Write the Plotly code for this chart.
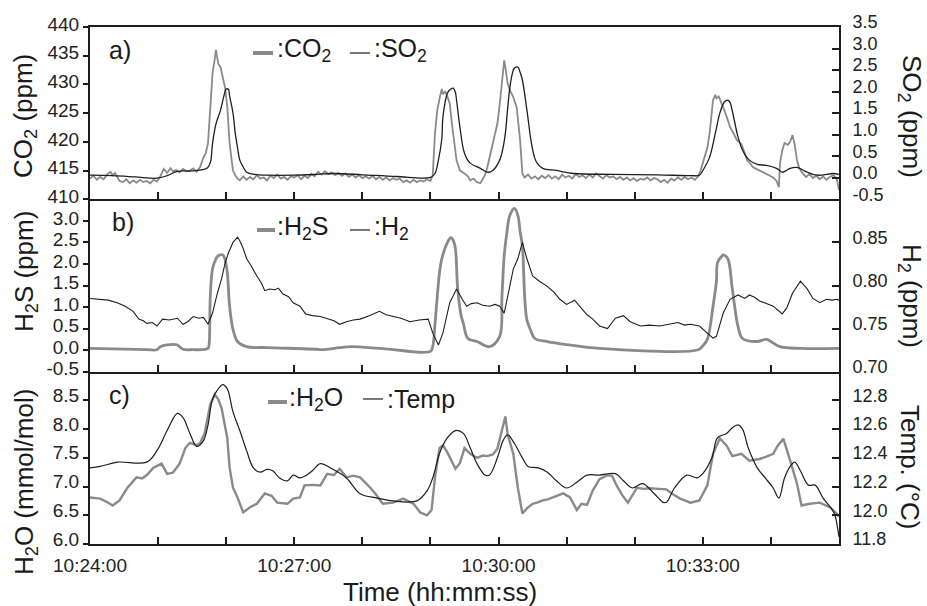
import pandas as pd
import plotly.graph_objects as go
from plotly.subplots import make_subplots

# ---------------- data (seconds after 10:24:00) ----------------
co2_t = [0,3,6,9,12,15,18,20,22,24,26,29,32,35,38,41,44,47,50,53,56,59,62,65,68,71,73,76,79,82,85,88,91,94,97,
         100,102,104,106,108,110,111,112,113,115,117,119,121,123,125,126,128,130,132,135,138,141,144,147,150,
         153,156,159,162,165,168,171,174,177,180,183,186,189,192,195,198,201,204,207,210,213,216,219,222,225,
         228,231,234,237,240,243,246,249,252,255,258,261,264,267,270,273,276,279,282,285,288,291,294,297,300,
         302,304,306,308,310,311,313,315,317,319,320,323,326,328,330,333,335,338,341,344,346,348,350,352,355,
         357,359,361,363,365,366,368,370,373,376,379,381,383,386,389,392,395,398,401,404,407,410,413,416,419,
         422,425,428,431,434,437,440,443,446,449,452,455,458,461,464,467,470,473,476,479,482,485,488,491,494,
         497,500,503,506,509,512,515,518,521,524,527,530,533,536,538,540,542,544,546,548,549,551,552,554,556,
         559,562,564,567,570,572,574,577,579,582,584,587,590,593,596,599,602,605,607,608,610,612,615,617,619,
         621,623,625,628,631,634,637,640,643,646,649,652,655,658,660]
co2_ppm = [413.6,414.1,413.4,413.9,413.5,414.3,414.8,414.2,414.6,413.8,413.2,413.0,413.5,412.8,413.3,412.9,
           413.4,413.0,413.2,412.8,413.4,413.1,414.0,415.3,414.6,415.4,414.9,415.1,414.7,415.3,414.9,415.0,
           415.4,414.8,415.6,417.3,418.0,419.8,427.0,432.0,434.5,436.0,434.8,433.6,433.0,431.0,429.5,426.0,
           419.8,416.5,415.0,414.2,413.6,413.3,414.0,413.4,413.9,413.5,414.2,413.6,413.8,413.3,414.1,413.7,
           414.3,413.6,413.9,413.4,414.0,413.8,414.2,413.5,414.1,413.7,414.4,414.0,414.8,414.3,414.9,414.4,
           414.7,414.2,414.6,414.1,414.5,413.9,414.3,413.8,414.2,413.7,414.0,413.6,414.1,413.5,413.9,413.4,
           413.8,413.3,413.7,413.4,413.6,413.0,413.3,412.9,413.4,413.0,413.3,413.1,413.5,413.2,414.2,421.5,
           425.5,427.5,429.2,428.3,428.8,427.8,426.7,423.0,421.5,416.8,415.0,414.8,414.5,414.0,413.3,413.6,
           413.0,412.8,413.4,414.2,415.5,417.3,419.5,421.5,423.2,426.5,430.2,434.2,433.0,430.2,429.0,427.8,
           426.0,420.3,414.5,413.8,414.3,413.6,414.0,413.5,414.1,413.7,414.2,413.6,414.0,413.5,414.3,413.8,
           414.1,413.6,414.4,413.9,414.2,413.7,414.3,413.8,414.5,414.0,413.6,414.2,413.8,414.0,413.5,413.9,
           413.4,413.8,413.3,413.7,413.2,413.6,413.4,413.8,413.3,413.7,413.5,413.0,413.4,412.9,413.6,413.3,
           413.8,413.4,413.9,413.5,413.8,413.4,414.0,415.0,416.3,417.8,419.0,421.5,425.0,427.3,428.2,427.6,
           427.9,427.0,425.5,423.8,422.6,421.5,420.3,420.0,419.6,418.0,416.8,416.2,415.6,415.3,415.0,414.8,
           414.5,414.2,413.8,413.2,412.1,416.3,418.5,419.8,419.5,420.0,421.2,419.5,416.8,415.4,414.5,413.9,
           414.4,413.7,414.1,413.5,414.0,413.4,413.9,414.2,413.6,411.6]

so2_t = [0,20,40,59,68,77,90,103,106,108,111,115,118,120,122,123,126,128,130,132,135,138,145,156,180,200,215,
         240,270,300,304,307,310,311,315,318,320,322,323,326,330,335,344,350,355,361,364,366,368,370,372,374,
         377,379,381,385,389,392,394,399,411,426,460,500,530,537,540,546,551,555,559,562,564,566,571,575,581,
         588,596,605,610,613,617,623,632,641,655,660]
so2_ppm = [0.06,0.05,0.02,-0.01,0.05,0.15,0.16,0.22,0.35,0.80,1.25,1.57,1.90,2.06,2.05,1.90,1.50,1.03,0.70,
           0.41,0.25,0.13,0.08,0.06,0.06,0.08,0.10,0.07,0.03,0.01,0.10,0.41,0.90,1.41,1.97,2.06,2.08,1.98,
           1.80,1.17,0.57,0.34,0.22,0.13,0.17,0.41,0.70,1.03,1.60,2.10,2.40,2.55,2.57,2.45,2.27,1.57,0.80,
           0.45,0.34,0.22,0.17,0.10,0.08,0.07,0.05,0.06,0.17,0.48,1.03,1.50,1.76,1.80,1.75,1.55,0.95,0.64,
           0.41,0.31,0.29,0.22,0.13,0.16,0.22,0.24,0.13,0.06,0.10,0.08]

h2s_t = [0,50,59,62,68,75,77,82,90,104,105,106,108,111,113,117,119,121,123,126,130,138,156,200,205,220,230,
         260,300,302,304,306,308,310,315,318,320,322,324,327,329,333,341,352,361,363,365,367,370,374,377,379,
         381,383,385,388,392,403,420,449,536,540,544,549,552,553,557,558,562,566,571,575,588,596,608,626,660]
h2s_ppm = [0.04,0.01,0.01,0.08,0.12,0.13,0.12,0.02,0.01,0.04,0.15,1.25,1.89,2.12,2.19,2.21,2.10,1.80,1.02,
           0.48,0.20,0.08,0.06,0.02,0.01,0.06,0.08,0.03,-0.03,0.08,0.60,1.25,1.80,2.12,2.50,2.61,2.55,2.35,
           1.42,0.80,0.62,0.27,0.20,0.08,0.32,1.25,2.20,2.66,3.13,3.29,3.13,2.75,2.42,1.25,0.70,0.48,0.27,
           0.20,0.13,0.04,0.01,0.10,0.25,1.02,1.60,2.03,2.19,2.21,2.12,1.42,0.55,0.27,0.20,0.25,0.08,0.04,0.04]

h2_t = [0,8,16,24,31,38,43,47,50,55,59,64,70,77,82,86,91,96,100,104,108,112,116,119,122,126,130,132,135,138,
        142,147,151,154,158,163,166,170,175,179,185,190,196,203,210,215,220,226,232,238,246,255,261,267,274,
        282,290,298,302,307,311,317,323,328,332,336,341,346,352,357,361,365,368,373,377,381,385,390,396,403,
        409,414,420,427,434,438,443,449,456,463,470,476,485,493,502,510,518,524,529,537,544,549,552,558,564,
        571,577,581,586,590,596,602,610,614,619,626,632,637,643,649,654,658,660]
h2_ppm = [0.785,0.784,0.783,0.780,0.776,0.770,0.761,0.759,0.756,0.757,0.753,0.761,0.760,0.762,0.755,0.758,
          0.764,0.762,0.763,0.755,0.768,0.790,0.808,0.826,0.838,0.850,0.856,0.852,0.843,0.831,0.823,0.811,
          0.803,0.794,0.796,0.795,0.797,0.790,0.787,0.780,0.776,0.767,0.765,0.764,0.761,0.759,0.755,0.758,
          0.760,0.761,0.765,0.770,0.766,0.764,0.762,0.758,0.760,0.761,0.745,0.731,0.745,0.780,0.796,0.784,
          0.776,0.779,0.780,0.777,0.776,0.778,0.776,0.768,0.788,0.819,0.831,0.850,0.831,0.811,0.805,0.799,
          0.792,0.784,0.778,0.783,0.772,0.766,0.761,0.753,0.750,0.762,0.765,0.758,0.753,0.754,0.753,0.755,
          0.757,0.754,0.755,0.753,0.745,0.739,0.741,0.768,0.784,0.789,0.785,0.789,0.786,0.782,0.779,0.776,
          0.767,0.774,0.791,0.805,0.796,0.785,0.780,0.784,0.783,0.784,0.783]

h2o_t = [0,9,15,20,26,33,41,46,50,56,63,68,73,79,84,88,94,97,101,106,110,113,116,121,123,126,130,135,141,147,
         154,160,165,174,179,185,189,196,203,209,215,220,226,232,238,247,252,258,267,276,285,291,297,301,304,
         308,311,315,322,326,330,335,341,346,350,355,359,363,366,368,373,377,381,385,390,395,399,404,408,413,
         417,423,429,433,438,443,449,455,460,464,469,474,482,488,493,501,508,514,520,529,537,544,549,555,561,
         566,570,574,581,586,590,596,602,606,611,617,623,627,634,643,652,658,660]
h2o_mmol = [6.81,6.79,6.73,6.67,6.76,6.98,7.16,7.14,7.20,7.33,7.40,7.22,7.24,7.40,7.67,7.76,7.72,7.76,7.93,
            8.43,8.60,8.52,8.36,7.84,7.33,6.98,6.81,6.55,6.64,6.70,6.88,6.84,6.72,6.70,6.79,6.81,7.02,7.03,
            7.02,7.22,7.20,7.31,7.16,7.19,7.16,6.98,6.86,6.70,6.72,6.79,6.70,6.55,6.50,6.59,7.16,7.67,7.72,
            7.59,7.31,7.41,7.67,7.57,7.50,7.54,7.53,7.56,7.66,7.97,8.22,7.91,7.57,6.98,6.53,6.62,6.70,6.73,
            6.76,6.78,6.81,6.84,6.88,6.81,6.59,6.70,6.68,6.93,7.13,7.19,7.19,7.02,6.85,6.72,6.98,6.96,6.97,
            6.96,6.95,6.86,6.79,6.72,6.76,7.02,7.57,7.84,7.71,7.53,7.55,7.57,7.45,7.46,7.48,7.52,7.57,7.71,
            7.83,7.45,7.05,6.67,6.70,6.72,6.64,6.53,6.48]

temp_t = [0,9,24,50,59,68,77,82,88,94,100,104,108,113,117,121,126,132,138,144,150,156,161,167,174,179,185,191,
          196,203,214,226,238,253,267,288,297,302,308,315,322,329,335,341,348,352,359,364,368,374,381,386,395,
          403,411,420,429,438,449,463,470,478,487,496,505,508,515,526,535,540,548,553,561,566,571,575,580,588,
          595,602,607,612,617,621,626,633,639,646,652,656,659,660]
temp_c = [12.33,12.34,12.37,12.37,12.45,12.59,12.71,12.68,12.57,12.48,12.52,12.63,12.81,12.88,12.91,12.88,
          12.72,12.59,12.45,12.33,12.30,12.32,12.31,12.26,12.24,12.28,12.26,12.28,12.31,12.36,12.32,12.26,
          12.15,12.12,12.10,12.10,12.17,12.26,12.43,12.54,12.59,12.57,12.47,12.36,12.28,12.28,12.40,12.52,
          12.56,12.50,12.40,12.34,12.33,12.30,12.24,12.19,12.23,12.28,12.28,12.29,12.24,12.19,12.22,12.16,
          12.09,12.09,12.19,12.28,12.26,12.29,12.40,12.54,12.57,12.61,12.63,12.60,12.47,12.33,12.26,12.19,
          12.12,12.26,12.34,12.37,12.31,12.21,12.21,12.12,12.06,12.01,11.90,11.85]

# tick labels
x_labels = ["10:24:00", "10:27:00", "10:30:00", "10:33:00"]
co2_ticks = [410, 415, 420, 425, 430, 435, 440]
so2_ticks = ["-0.5", "0.0", "0.5", "1.0", "1.5", "2.0", "2.5", "3.0", "3.5"]
h2s_ticks = ["-0.5", "0.0", "0.5", "1.0", "1.5", "2.0", "2.5", "3.0"]
h2_ticks = ["0.70", "0.75", "0.80", "0.85"]
h2o_ticks = ["6.0", "6.5", "7.0", "7.5", "8.0", "8.5"]
temp_ticks = ["11.8", "12.0", "12.2", "12.4", "12.6", "12.8"]

# ---------------- figure ----------------
BASE = pd.Timestamp("2000-01-01 10:24:00")
def tt(secs):
    return [BASE + pd.Timedelta(seconds=s) for s in secs]

GRAY = "#8a8a8a"
INK = "#1e1e1e"
FONT = "Liberation Sans, Arial, sans-serif"

fig = make_subplots(rows=3, cols=1, shared_xaxes=True, vertical_spacing=0,
                    specs=[[{"secondary_y": True}]] * 3)

fig.add_trace(go.Scatter(x=tt(co2_t), y=co2_ppm, mode="lines",
                         line=dict(color=GRAY, width=1.8)), row=1, col=1, secondary_y=False)
fig.add_trace(go.Scatter(x=tt(so2_t), y=so2_ppm, mode="lines", line_shape="spline",
                         line=dict(color=INK, width=1.3)), row=1, col=1, secondary_y=True)
fig.add_trace(go.Scatter(x=tt(h2s_t), y=h2s_ppm, mode="lines", line_shape="spline",
                         line=dict(color=GRAY, width=2.8)), row=2, col=1, secondary_y=False)
fig.add_trace(go.Scatter(x=tt(h2_t), y=h2_ppm, mode="lines",
                         line=dict(color=INK, width=1.1)), row=2, col=1, secondary_y=True)
fig.add_trace(go.Scatter(x=tt(h2o_t), y=h2o_mmol, mode="lines",
                         line=dict(color=GRAY, width=2.4)), row=3, col=1, secondary_y=False)
fig.add_trace(go.Scatter(x=tt(temp_t), y=temp_c, mode="lines", line_shape="spline",
                         line=dict(color=INK, width=1.2)), row=3, col=1, secondary_y=True)

xtickvals = [BASE + pd.Timedelta(minutes=3 * i) for i in range(len(x_labels))]
for r in (1, 2, 3):
    fig.update_xaxes(row=r, col=1, type="date", automargin=False, domain=[0, 1],
                     range=[BASE, BASE + pd.Timedelta(seconds=660)],
                     tickvals=xtickvals, ticktext=x_labels,
                     ticks="inside", ticklen=7, tickwidth=1.5, tickcolor=INK,
                     ticklabelstandoff=3,
                     minor=dict(dtick=60000, tick0=BASE, ticks="inside", ticklen=7,
                                tickwidth=1.5, tickcolor=INK, showgrid=False),
                     showline=True, linecolor=INK, linewidth=2, mirror=(r == 1),
                     showgrid=False, zeroline=False,
                     tickfont=dict(family=FONT, size=19, color="#222"),
                     showticklabels=(r == 3))

def left_axis(r, rng, vals, text, shift=-3):
    fig.update_yaxes(row=r, col=1, secondary_y=False, range=rng, automargin=False,
                     tickvals=vals, ticktext=text,
                     ticks="outside", ticklen=5, tickwidth=1.5, tickcolor=INK,
                     ticklabelshift=shift,
                     showline=True, linecolor=INK, linewidth=2,
                     showgrid=False, zeroline=False,
                     tickfont=dict(family=FONT, size=19, color="#222"))

def right_axis(r, rng, vals, text):
    fig.update_yaxes(row=r, col=1, secondary_y=True, range=rng, automargin=False,
                     tickvals=vals, ticktext=text,
                     ticks="inside", ticklen=7, tickwidth=1.5, tickcolor=INK,
                     ticklabelstandoff=8, ticklabelshift=-5,
                     showline=True, linecolor=INK, linewidth=2,
                     showgrid=False, zeroline=False,
                     tickfont=dict(family=FONT, size=18, color="#222"))

left_axis(1, [410, 440], co2_ticks, [str(v) for v in co2_ticks])
right_axis(1, [-0.5, 3.5], [float(s) for s in so2_ticks], so2_ticks)
left_axis(2, [-0.5, 3.5], [float(s) for s in h2s_ticks], h2s_ticks)
right_axis(2, [0.70, 0.90], [float(s) for s in h2_ticks], h2_ticks)
left_axis(3, [6.0, 9.0], [float(s) for s in h2o_ticks], h2o_ticks, shift=-5)
right_axis(3, [11.8, 13.0], [float(s) for s in temp_ticks], temp_ticks)

ann = []
def txt(x, y, s, size=26, angle=0, xanchor="center", yanchor="middle"):
    ann.append(dict(x=x, y=y, xref="paper", yref="paper", text=s, showarrow=False,
                    textangle=angle, xanchor=xanchor, yanchor=yanchor,
                    font=dict(family=FONT, size=size, color="#1a1a1a")))

# axis titles
txt(-0.0868, 0.8279, "CO<sub>2</sub> (ppm)", angle=-90)
txt(-0.0868, 0.528, "H<sub>2</sub>S (ppm)", angle=-90)
txt(-0.0868, 0.1199, "H<sub>2</sub>O (mmol/mol)", angle=-90)
txt(1.0948, 0.8279, "SO<sub>2</sub> (ppm)", angle=90)
txt(1.0948, 0.4797, "H<sub>2</sub> (ppm)", angle=90)
txt(1.0948, 0.1489, "Temp. (°C)", angle=90)
txt(0.4673, -0.0928, "Time (hh:mm:ss)")

# panel labels and in-panel legends
txt(0.0227, 0.9555, "a)", size=25, xanchor="left")
txt(0.247, 0.9555, ":CO<sub>2</sub>", size=25, xanchor="left")
txt(0.3765, 0.9555, ":SO<sub>2</sub>", size=25, xanchor="left")
txt(0.0267, 0.6228, "b)", size=25, xanchor="left")
txt(0.247, 0.612, ":H<sub>2</sub>S", size=25, xanchor="left")
txt(0.3765, 0.612, ":H<sub>2</sub>", size=25, xanchor="left")
txt(0.0227, 0.2882, "c)", size=25, xanchor="left")
txt(0.263, 0.2805, ":H<sub>2</sub>O", size=25, xanchor="left")
txt(0.3939, 0.2805, ":Temp", size=25, xanchor="left")

shapes = []
def dash(x0, x1, y, color, width):
    shapes.append(dict(type="line", xref="paper", yref="paper", x0=x0, x1=x1, y0=y, y1=y,
                       line=dict(color=color, width=width)))
dash(0.2176, 0.2443, 0.9497, GRAY, 4)
dash(0.3471, 0.3738, 0.9497, INK, 1.2)
dash(0.223, 0.247, 0.6074, GRAY, 4)
dash(0.3471, 0.3738, 0.6074, INK, 1.2)
dash(0.2377, 0.263, 0.2747, GRAY, 4)
dash(0.3645, 0.3912, 0.2805, INK, 1.2)

fig.update_layout(width=927, height=606, margin=dict(l=90, r=88, t=27, b=62, autoexpand=False),
                  plot_bgcolor="white", paper_bgcolor="white", showlegend=False,
                  annotations=ann, shapes=shapes,
                  font=dict(family=FONT, color="#222"))

fig.write_html("out.html")
